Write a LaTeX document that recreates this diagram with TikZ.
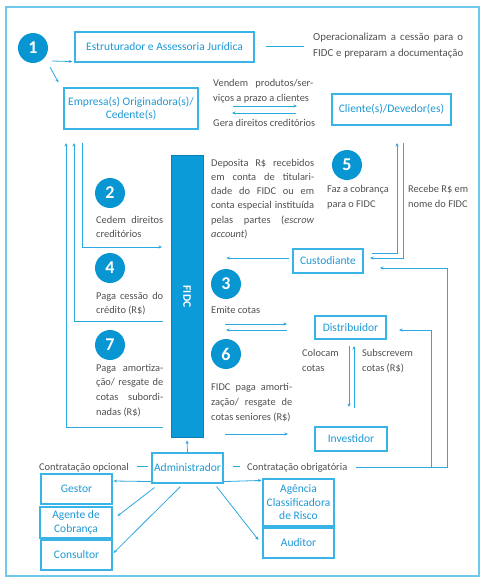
\documentclass[tikz,border=0pt]{standalone}
\usepackage{fontspec}
\setmainfont{Carlito}
\usetikzlibrary{arrows.meta,calc}
\definecolor{boxline}{HTML}{3AB4E6}
\definecolor{boxtext}{HTML}{1E98D5}
\definecolor{numblue}{HTML}{0896D3}
\definecolor{fidcfill}{HTML}{0A9BD8}
\definecolor{fidcline}{HTML}{0A7FB8}
\definecolor{linecol}{HTML}{2BA8E0}
\definecolor{framecol}{HTML}{6FC8EE}
\definecolor{txtgray}{HTML}{505050}
\newcommand\jl[2]{\hbox to #1{#2}}
\begin{document}
\begin{tikzpicture}[x=1pt,y=-1pt,
  box/.style={draw=boxline,line width=1.1pt,text=boxtext,font=\fontsize{11.5}{13.5}\selectfont,inner sep=0pt,align=center},
  num/.style={circle,fill=numblue,text=white,font=\fontsize{18}{18}\selectfont\bfseries,minimum size=30pt,inner sep=0pt},
  lbl/.style={text=txtgray,font=\fontsize{10.4}{14.3}\selectfont,inner sep=0pt,align=left,anchor=base west},
  con/.style={draw=linecol,line width=0.8pt},
  arr/.style={con,-{Stealth[length=3.5pt,width=3pt]}},
]
\useasboundingbox (0,0) rectangle (483,584);
\draw[framecol,line width=1.3pt] (6,7) rectangle (479,576);

% boxes
\node[box,minimum width=179pt,minimum height=30pt] (estr) at (164.5,47) {Estruturador e Assessoria Jurídica};
\node[box,minimum width=134pt,minimum height=41pt] (emp) at (131,108.5) {Empresa(s) Originadora(s)/\\Cedente(s)};
\node[box,minimum width=119pt,minimum height=31pt] (cli) at (391.5,109.5) {Cliente(s)/Devedor(es)};
\node[box,minimum width=70pt,minimum height=24pt] (cust) at (328,261) {Custodiante};
\node[box,minimum width=71pt,minimum height=23pt] (dist) at (350.5,327.5) {Distribuidor};
\node[box,minimum width=72pt,minimum height=24pt] (inv) at (351,439) {Investidor};
\node[box,minimum width=71pt,minimum height=30pt] (adm) at (187.5,468) {Administrador};
\node[box,minimum width=71pt,minimum height=30pt] (gest) at (76.5,489) {Gestor};
\node[box,minimum width=72pt,minimum height=31pt] (agen) at (76,522.5) {Agente de\\Cobrança};
\node[box,minimum width=71pt,minimum height=30pt] (cons) at (76.5,555) {Consultor};
\node[box,minimum width=71pt,minimum height=47pt] (agc) at (298.5,502.5) {Agência\\Classificadora\\de Risco};
\node[box,minimum width=71pt,minimum height=30pt] (aud) at (298.5,543) {Auditor};
\node[draw=fidcline,fill=fidcfill,line width=0.8pt,minimum width=32pt,minimum height=282pt,inner sep=0pt] (fidc) at (187,296) {};
\node[text=white,font=\fontsize{11.5}{12}\selectfont\bfseries,rotate=-90,inner sep=0pt] (fidclbl) at (187,296.5) {FIDC};

% numbers
\node[num] (n1) at (33,48) {1};
\node[num] (n2) at (110,193) {2};
\node[num] (n4) at (110,268) {4};
\node[num] (n7) at (110,345) {7};
\node[num] (n5) at (347,165) {5};
\node[num] (n3) at (226,284) {3};
\node[num] (n6) at (226,354) {6};

% texts (anchor at baseline of the last line)
\node[lbl,font=\fontsize{10.8}{16}\selectfont] (t0) at (313,56) {\jl{150pt}{Operacionalizam a cessão para o}\\\jl{150pt}{FIDC e preparam a documentação}};
\node[lbl,font=\fontsize{10.4}{15}\selectfont] (tv) at (213,101) {\jl{100pt}{Vendem produtos/ser-}\\viços a prazo a clientes};
\node[lbl] (tg) at (213,126) {Gera direitos creditórios};
\node[lbl] (td) at (211,237.5) {\jl{103pt}{Deposita R\$ recebidos}\\\jl{103pt}{em conta de titulari-}\\\jl{103pt}{dade do FIDC ou em}\\\jl{103pt}{conta especial instituída}\\\jl{103pt}{pelas partes (\textit{escrow}}\\\textit{account})};
\node[lbl] (t5) at (327,207) {Faz a cobrança\\para o FIDC};
\node[lbl] (tr) at (408,207) {Recebe R\$ em\\nome do FIDC};
\node[lbl,font=\fontsize{10.4}{13.5}\selectfont] (t2) at (96,237) {\jl{67pt}{Cedem direitos}\\creditórios};
\node[lbl,font=\fontsize{10.4}{14}\selectfont] (t4) at (96,313) {\jl{67pt}{Paga cessão do}\\crédito (R\$)};
\node[lbl,font=\fontsize{10.4}{14.8}\selectfont] (t7) at (96,415.5) {\jl{67pt}{Paga amortiza-}\\\jl{67pt}{ção/ resgate de}\\\jl{67pt}{cotas subordi-}\\nadas (R\$)};
\node[lbl] (t3) at (211,313) {Emite cotas};
\node[lbl,font=\fontsize{10.4}{15}\selectfont] (tc) at (302,371.5) {Colocam\\cotas};
\node[lbl,font=\fontsize{10.4}{15}\selectfont] (ts) at (362,371.5) {Subscrevem\\cotas (R\$)};
\node[lbl,font=\fontsize{10.4}{15}\selectfont] (t6) at (211,420) {\jl{81pt}{FIDC paga amorti-}\\\jl{81pt}{zação/ resgate de}\\cotas seniores (R\$)};
\node[lbl] (to) at (39,470) {Contratação opcional};
\node[lbl] (tob) at (247,470) {Contratação obrigatória};

% connectors top
\draw[arr] ($(n1.center)+(19,13)$) -- ($(estr.south west)+(-2,-1)$);
\draw[arr] ($(n1.center)+(17,19)$) -- ($(emp.north west)+(-5,-5)$);
\draw[con] ($(estr.east)+(11,-1)$) -- ($(estr.east)+(49,-1)$);
\coordinate (va) at (233,106); \coordinate (vb) at (297,106);
\coordinate (ga) at (296,113); \coordinate (gb) at (232,113);
\draw[arr] (va) -- (vb);
\draw[arr] (ga) -- (gb);

% left lines
\coordinate (l2a) at (82,143); \coordinate (l2b) at (162,247);
\draw[arr] (l2a) |- (l2b);
\coordinate (l4a) at (163,321); \coordinate (l4b) at (74,143);
\draw[arr] (l4a) -| (l4b);
\coordinate (l7a) at (163,427); \coordinate (l7b) at (66,143);
\draw[arr] (l7a) -| (l7b);

% custodiante lines
\coordinate (ca) at (372,253); \coordinate (cb) at (397,143);
\draw[arr] (ca) -| (cb);
\coordinate (cc) at (403,143); \coordinate (cd) at (370,258);
\draw[arr] (cc) |- (cd);
\draw[arr] ($(cust.west)+(-3,-3)$) -- ($(fidc.east)+(23,-38)$);

% distribuidor
\coordinate (ea) at (225,324); \coordinate (eb) at (287,324);
\coordinate (ec) at (287,330); \coordinate (ed) at (226,330);
\draw[arr] (ea) -- (eb);
\draw[arr] (ec) -- (ed);
\coordinate (da) at (349,346); \coordinate (db) at (349,407);
\coordinate (dc) at (354,408); \coordinate (dd) at (354,346);
\draw[arr] (da) -- (db);
\draw[arr] (dc) -- (dd);
\coordinate (ia) at (225,434); \coordinate (ib) at (288,434);
\draw[arr] (ia) -- (ib);

% administrador
\draw[arr] (adm.north) -- ($(fidc.south)+(0,3)$);
\coordinate (d1a) at (137,466); \coordinate (d1b) at (148,466);
\draw[con] (d1a) -- (d1b);
\coordinate (d2a) at (233,466); \coordinate (d2b) at (240,466);
\draw[con] (d2a) -- (d2b);
\coordinate (oa) at (356,467); \coordinate (ob) at (447,467);
\coordinate (oc) at (447,268); \coordinate (od) at (380,268);
\draw[arr] (oa) -- (ob) -- (oc) -- (od);
\coordinate (pa) at (431,467); \coordinate (pb) at (399,330);
\draw[arr] (pa) |- (pb);

\draw[arr] ($(adm.south west)+(0,-2)$) -- ($(gest.east)+(1,-8)$);
\draw[arr] ($(adm.south east)+(0,-2)$) -- ($(agc.north west)+(-1,2)$);
\draw[arr] ($(adm.south west)+(3,4)$) -- ($(agen.east)+(5,-6.5)$);
\draw[arr] ($(adm.south west)+(29,3)$) -- ($(cons.east)+(1,-2)$);
\draw[arr] ($(adm.south east)+(-7,3)$) -- ($(aud.west)+(-4,-3)$);
\end{tikzpicture}
\end{document}
